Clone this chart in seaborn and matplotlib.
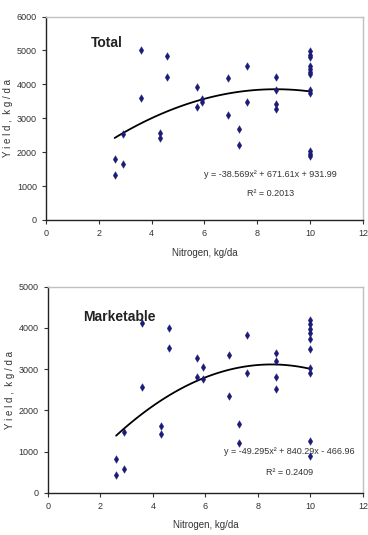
import numpy as np
import pandas as pd
import matplotlib
matplotlib.use("Agg")
import matplotlib.pyplot as plt
import seaborn as sns

sns.set_style("white")
plt.rcParams['font.family'] = ['Liberation Sans', 'DejaVu Sans']

# Total yield data
total_x = [2.6, 2.6, 2.9, 2.9, 3.6, 3.6, 4.3, 4.3, 4.6, 4.6, 5.7, 5.7, 5.9, 5.9,
           6.9, 6.9, 7.3, 7.3, 7.6, 7.6, 8.7, 8.7, 8.7, 8.7,
           10, 10, 10, 10, 10, 10, 10, 10, 10, 10, 10, 10]
total_y = [1800, 1310, 1640, 2530, 5010, 3600, 2550, 2430, 4840, 4220, 3930, 3340, 3580, 3490,
           4200, 3100, 2680, 2220, 4530, 3490, 4220, 3830, 3410, 3260,
           4990, 4870, 4820, 4550, 4450, 4360, 4310, 3830, 3740, 2020, 1950, 1890]

# Marketable yield data
mark_x = [2.6, 2.6, 2.9, 2.9, 3.6, 3.6, 4.3, 4.3, 4.6, 4.6, 5.7, 5.7, 5.9, 5.9,
          6.9, 6.9, 7.3, 7.3, 7.6, 7.6, 8.7, 8.7, 8.7, 8.7,
          10, 10, 10, 10, 10, 10, 10, 10, 10, 10]
mark_y = [830, 430, 1480, 570, 4110, 2560, 1630, 1420, 4000, 3510, 3280, 2820, 3050, 2760,
          3350, 2350, 1660, 1210, 3830, 2910, 3400, 3190, 2820, 2530,
          4190, 4090, 3970, 3870, 3730, 3490, 3030, 2900, 1260, 890]

# trendline coefficients (from chart equations)
total_coef = [-38.569, 671.61, 931.99]
mark_coef = [-49.295, 840.29, -466.96]

fig = plt.figure(figsize=(3.68, 5.35), dpi=100)
ax1 = fig.add_axes([0.125, 0.589, 0.861, 0.380])
ax2 = fig.add_axes([0.130, 0.079, 0.856, 0.385])

navy = "#1c1c78"


def panel(ax, xs, ys, coef, ymax, label, lab_xy, eq, r2, eq_xy, r2_xy):
    df = pd.DataFrame({"x": xs, "y": ys})
    sns.scatterplot(data=df, x="x", y="y", ax=ax, marker="d", s=15,
                    color=navy, edgecolor=navy, linewidth=0.3, zorder=3)
    xf = np.linspace(min(xs), max(xs), 100)
    fit = pd.DataFrame({"x": xf, "y": np.polyval(coef, xf)})
    sns.lineplot(data=fit, x="x", y="y", ax=ax, color="black", lw=1.3, zorder=2)
    ax.set_xlim(0, 12)
    ax.set_ylim(0, ymax)
    ax.set_xticks(range(0, 13, 2))
    ax.set_yticks(range(0, ymax + 1, 1000))
    ax.tick_params(labelsize=6.5, colors="#333333", length=3, width=0.8,
                   direction="out", bottom=True, left=True)
    for s in ["top", "right"]:
        ax.spines[s].set_color("#c0c0c0")
        ax.spines[s].set_linewidth(1.0)
    for s in ["left", "bottom"]:
        ax.spines[s].set_color("#222222")
        ax.spines[s].set_linewidth(1.0)
    ax.set_xlabel("Nitrogen, kg/da", fontsize=7, color="#333333", labelpad=7)
    ax.set_ylabel("Y i e l d ,  k g / d a", fontsize=7, color="#333333", labelpad=3)
    ax.text(lab_xy[0], lab_xy[1], label, fontsize=10, fontweight="bold",
            color="#222222", va="center", ha="left")
    ax.text(eq_xy[0], eq_xy[1], eq, fontsize=6.5, color="#333333", ha="center", va="center")
    ax.text(r2_xy[0], r2_xy[1], r2, fontsize=6.5, color="#333333", ha="center", va="center")


panel(ax1, total_x, total_y, total_coef, 6000, "Total", (1.7, 5220),
      "y = -38.569x\u00b2 + 671.61x + 931.99", "R\u00b2 = 0.2013",
      (8.5, 1330), (8.5, 770))
panel(ax2, mark_x, mark_y, mark_coef, 5000, "Marketable", (1.33, 4265),
      "y = -49.295x\u00b2 + 840.29x - 466.96", "R\u00b2 = 0.2409",
      (9.2, 1000), (9.2, 490))

fig.savefig("out.png", dpi=100)
